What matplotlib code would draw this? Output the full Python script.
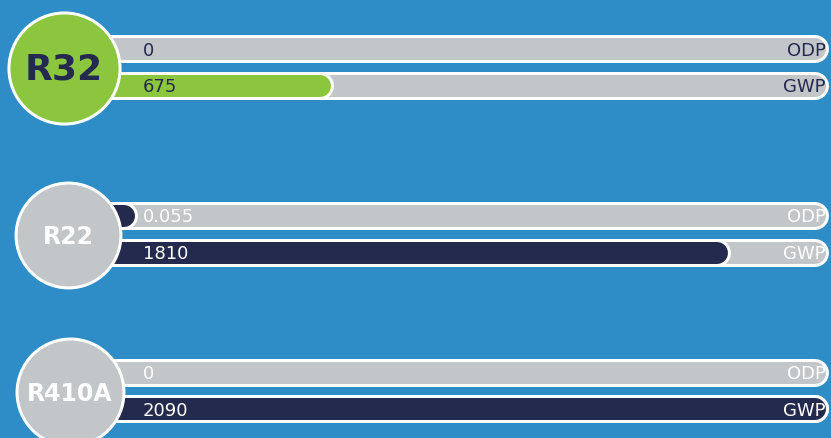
import matplotlib
matplotlib.use("Agg")
import matplotlib.pyplot as plt

# data
refrigerantes = ["R32", "R22", "R410A"]
odp = [0, 0.055, 0]
gwp = [675, 1810, 2090]
odp_labels = ["0", "0.055", "0"]
gwp_labels = ["675", "1810", "2090"]
metricas = ["ODP", "GWP"]
escala_max = {"ODP": 1.0, "GWP": 2090}

# cores
AZUL = "#2E8DC6"
CINZA = "#C3C6C9"
VERDE = "#8CC63F"
MARINHO = "#232A4E"
BRANCO = "#FFFFFF"

# layout (pixels da imagem)
X0 = 84          # posição do valor zero
X1 = 815         # posição do valor máximo
CENTROS_Y = [68, 235, 392]
DESLOC = 18.5
CIRC_X = [64, 68, 70]
CIRC_D = [80, 75.5, 77]
PX = 0.72        # pontos por pixel a 100 dpi


def px_para_x(px):
    return (px - X0) / (X1 - X0)


def desenhar():
    fig = plt.figure(figsize=(8.31, 4.39), dpi=100)
    fig.patch.set_facecolor(AZUL)
    ax = fig.add_axes([0, 0, 1, 1])
    ax.set_facecolor(AZUL)
    ax.set_xlim(px_para_x(0), px_para_x(831))
    ax.set_ylim(439, 0)
    ax.axis("off")

    for i, nome in enumerate(refrigerantes):
        destaque = (i == 0)
        cor_barra = VERDE if destaque else MARINHO
        cor_texto = MARINHO if destaque else BRANCO
        valores = {"ODP": odp[i], "GWP": gwp[i]}
        rotulos = {"ODP": odp_labels[i], "GWP": gwp_labels[i]}

        for j, m in enumerate(metricas):
            y = CENTROS_Y[i] + (DESLOC if j == 1 else -DESLOC)
            # trilho
            ax.plot([0, 1], [y, y], color=BRANCO, lw=28 * PX, solid_capstyle="round", zorder=1)
            ax.plot([0, 1], [y, y], color=CINZA, lw=22 * PX, solid_capstyle="round", zorder=2)
            # preenchimento
            frac = valores[m] / escala_max[m]
            if frac > 0:
                ax.plot([0, frac], [y, y], color=BRANCO, lw=28 * PX, solid_capstyle="round", zorder=3)
                ax.plot([0, frac], [y, y], color=cor_barra, lw=22 * PX, solid_capstyle="round", zorder=4)
            ax.text(px_para_x(143), y + 1, rotulos[m], color=cor_texto, fontsize=13,
                    ha="left", va="center", zorder=6)
            ax.text(px_para_x(826), y + 1, m, color=cor_texto, fontsize=13,
                    ha="right", va="center", zorder=6)

        # círculo
        cor_circ = VERDE if destaque else CINZA
        ax.scatter([px_para_x(CIRC_X[i])], [CENTROS_Y[i] + 1], s=CIRC_D[i] ** 2, color=cor_circ,
                   edgecolors=BRANCO, linewidths=3 * PX, zorder=7)
        ax.text(px_para_x(CIRC_X[i]), CENTROS_Y[i] + 2, nome, color=cor_texto,
                fontsize=26 if destaque else 17, fontweight="bold",
                ha="center", va="center", zorder=8)

    fig.savefig("out.png", dpi=100, facecolor=AZUL)
    plt.close(fig)


if __name__ == "__main__":
    desenhar()
